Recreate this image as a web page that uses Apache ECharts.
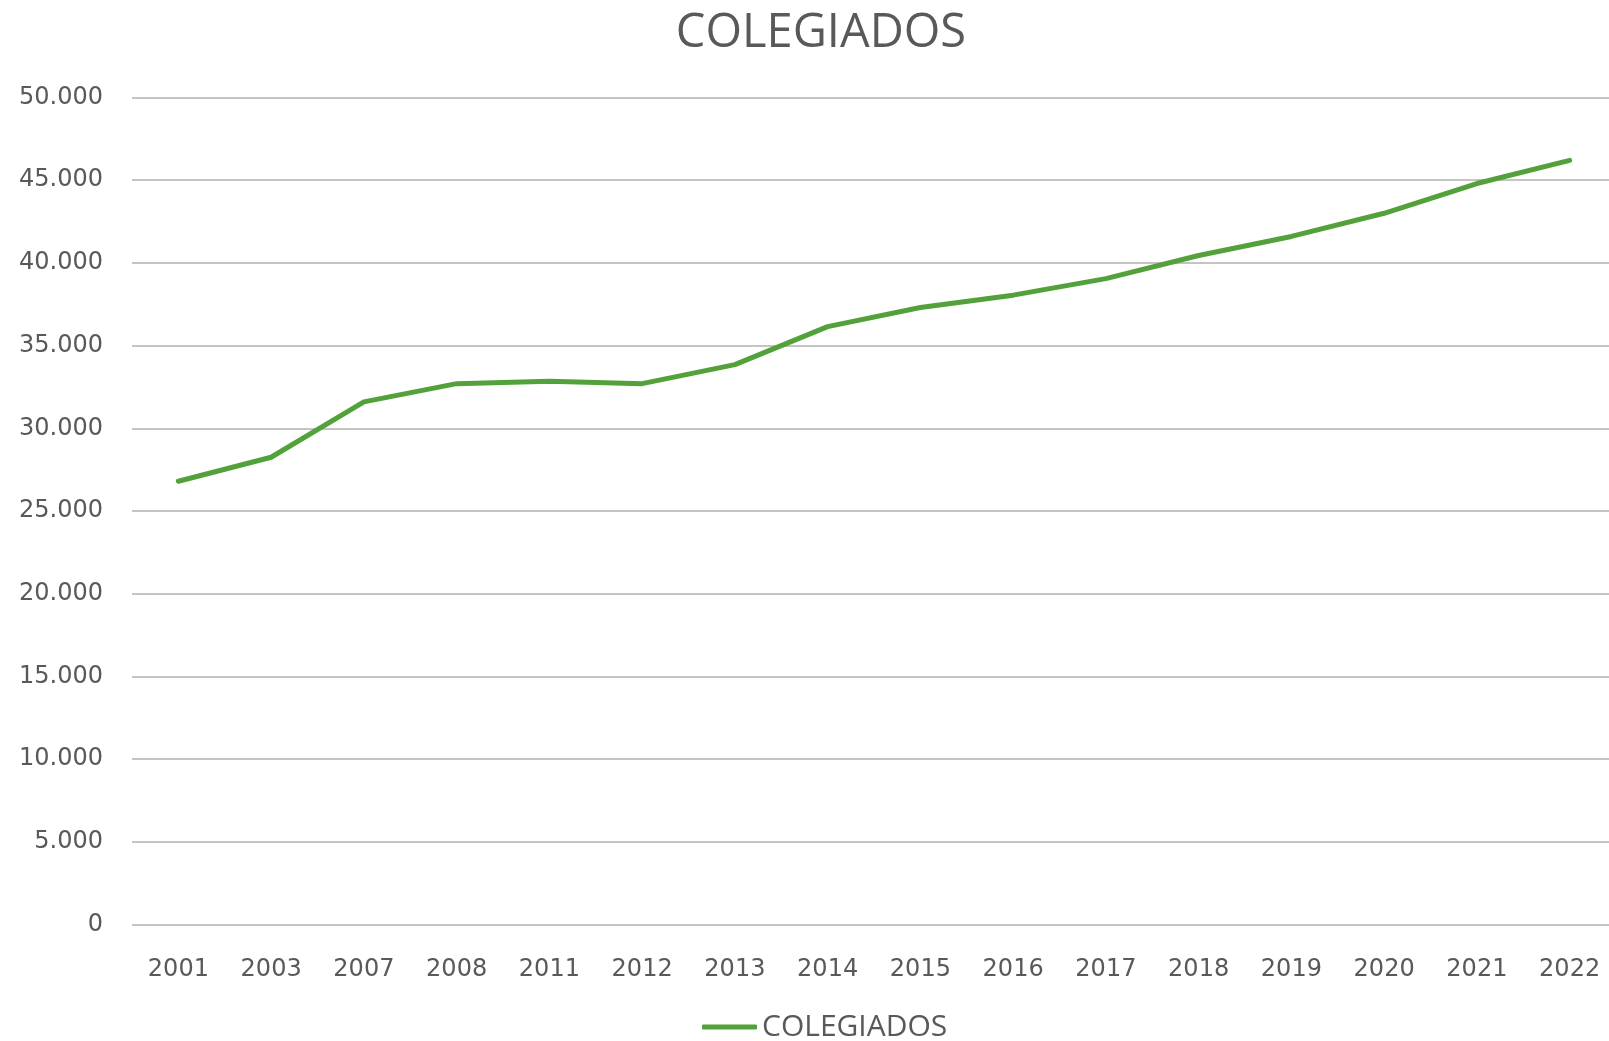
<!DOCTYPE html>
<html>
<head>
<meta charset="utf-8">
<title>COLEGIADOS</title>
<script src="https://cdn.jsdelivr.net/npm/echarts@6/dist/echarts.min.js"></script>
<style>
    html, body { margin: 0; padding: 0; background: #ffffff; }
    #chart { width: 1609px; height: 1041px; }
</style>
</head>
<body>
<div id="chart"></div>
<script>
'use strict';

var chart_title = 'COLEGIADOS';
var chart_years = ['2001', '2003', '2007', '2008', '2011', '2012', '2013', '2014',
    '2015', '2016', '2017', '2018', '2019', '2020', '2021', '2022'];
var chart_colegiados = [26800, 28250, 31600, 32700, 32850, 32700, 33850, 36150,
    37300, 38050, 39050, 40450, 41600, 43000, 44800, 46200];
var chart_y_min = 0;
var chart_y_max = 50000;
var chart_y_step = 5000;

document.addEventListener('DOMContentLoaded', function () {
    var myChart = echarts.init(document.getElementById('chart'));
    var textGrey = '#595959';
    var lineGreen = '#52a13a';

    var option = {
        animation: false,
        backgroundColor: '#ffffff',
        title: {
            text: chart_title,
            left: 821,
            top: 10,
            textAlign: 'center',
            padding: 0,
            textStyle: {
                fontFamily: 'Open Sans',
                fontSize: 47,
                fontWeight: 'normal',
                color: textGrey
            }
        },
        legend: {
            left: 702,
            top: 1012,
            padding: 0,
            icon: 'roundRect',
            itemWidth: 55,
            itemHeight: 5,
            itemGap: 5,
            itemStyle: { color: lineGreen, borderWidth: 0 },
            textStyle: {
                fontFamily: 'Open Sans',
                fontSize: 30,
                color: textGrey
            },
            data: [chart_title]
        },
        grid: {
            left: 132,
            top: 97.5,
            width: 1484,
            height: 827,
            outerBoundsMode: 'none',
            containLabel: false
        },
        xAxis: {
            type: 'category',
            data: chart_years,
            boundaryGap: true,
            axisLine: { show: false },
            axisTick: { show: false },
            axisLabel: {
                interval: 0,
                margin: 33,
                fontFamily: 'DejaVu Sans',
                fontSize: 24,
                color: textGrey
            }
        },
        yAxis: {
            type: 'value',
            min: chart_y_min,
            max: chart_y_max,
            interval: chart_y_step,
            axisLine: { show: false },
            axisTick: { show: false },
            splitLine: {
                lineStyle: { color: '#b0b0b0', width: 1.5 }
            },
            axisLabel: {
                margin: 29,
                padding: [5, 0, 0, 0],
                fontFamily: 'DejaVu Sans',
                fontSize: 24,
                color: textGrey,
                formatter: function (v) {
                    // separador de miles con punto
                    return String(v).replace(/\B(?=(\d{3})+(?!\d))/g, '.');
                }
            }
        },
        series: [
            {
                name: chart_title,
                type: 'line',
                data: chart_colegiados,
                symbol: 'none',
                showSymbol: false,
                lineStyle: { color: lineGreen, width: 5, cap: 'round', join: 'round' },
                itemStyle: { color: lineGreen }
            }
        ]
    };

    myChart.setOption(option);
    window.onresize = function () {
        myChart.resize();
    };
});
</script>
</body>
</html>
